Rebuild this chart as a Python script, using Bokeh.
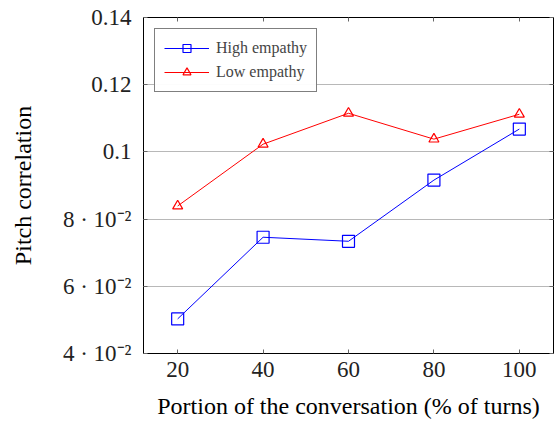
from bokeh.plotting import figure
from bokeh.models import LinearAxis, FixedTicker, Range1d, Legend, LegendItem
from bokeh.embed import file_html
from bokeh.resources import INLINE

portion = [20, 40, 60, 80, 100]
high_empathy = [0.0503, 0.0746, 0.0734, 0.0916, 0.1068]
low_empathy = [0.0839, 0.1023, 0.1115, 0.1038, 0.1112]
x_ticks = [20, 40, 60, 80, 100]
y_ticks = [0.04, 0.06, 0.08, 0.10, 0.12, 0.14]
y_tick_labels = ["4 · 10⁻²", "6 · 10⁻²", "8 · 10⁻²", "0.1", "0.12", "0.14"]

FONT = "Liberation Serif"

p = figure(width=557, height=423, output_backend="svg", toolbar_location=None,
           x_range=Range1d(12, 108), y_range=Range1d(0.04, 0.14),
           min_border_left=143, min_border_right=4, min_border_top=17, min_border_bottom=70)

p.outline_line_color = "black"
p.outline_line_width = 1
p.background_fill_color = "white"
p.border_fill_color = "white"

p.xgrid.visible = False
p.ygrid.grid_line_color = "#b8b8b8"
p.ygrid.grid_line_width = 1
p.ygrid.ticker = FixedTicker(ticks=y_ticks)

xa = p.xaxis[0]
xa.ticker = FixedTicker(ticks=x_ticks)
ya = p.yaxis[0]
ya.ticker = FixedTicker(ticks=y_ticks)
ya.major_label_overrides = {t: l for t, l in zip(y_ticks, y_tick_labels)}

for ax in (xa, ya):
    ax.axis_line_color = None
    ax.major_tick_in = 4
    ax.major_tick_out = 0
    ax.minor_tick_line_color = None
    ax.major_tick_line_color = "#666666"
    ax.major_label_text_font = FONT
    ax.major_label_text_font_size = "23px"
    ax.major_label_text_color = "#222222"
    ax.axis_label_text_font = FONT
    ax.axis_label_text_font_size = "24px"
    ax.axis_label_text_font_style = "normal"
    ax.axis_label_text_color = "black"

xa.major_label_standoff = 8
ya.major_label_standoff = 12
xa.axis_label = "Portion of the conversation (% of turns)"
xa.axis_label_standoff = 13
ya.axis_label = "Pitch correlation"
ya.axis_label_standoff = 24

# mirrored ticks on top and right
top = LinearAxis(ticker=FixedTicker(ticks=x_ticks), axis_line_color=None,
                 major_tick_in=4, major_tick_out=0, minor_tick_line_color=None,
                 major_tick_line_color="#666666", major_label_text_color=None,
                 major_label_text_font_size="1px", major_label_standoff=0)
right = LinearAxis(ticker=FixedTicker(ticks=y_ticks), axis_line_color=None,
                   major_tick_in=4, major_tick_out=0, minor_tick_line_color=None,
                   major_tick_line_color="#666666", major_label_text_color=None,
                   major_label_text_font_size="1px", major_label_standoff=0)
p.add_layout(top, "above")
p.add_layout(right, "right")

hl = p.line(portion, high_empathy, line_color="#0000ff", line_width=1)
hm = p.scatter(portion, high_empathy, marker="square", size=12, line_color="#0000ff",
               fill_color=None, line_width=1.2)
ll = p.line(portion, low_empathy, line_color="#ff0000", line_width=1)
lm = p.scatter(portion, low_empathy, marker="triangle", size=10, line_color="#ff0000",
               fill_color=None, line_width=1.2)

legend = Legend(items=[LegendItem(label="High empathy", renderers=[hl, hm]),
                       LegendItem(label="Low empathy", renderers=[ll, lm])],
                location="top_left")
legend.label_text_font = FONT
legend.label_text_font_size = "16px"
legend.border_line_color = "black"
legend.border_line_width = 1
legend.glyph_width = 45
legend.glyph_height = 20
legend.label_height = 20
legend.spacing = 4
legend.padding = 9
legend.margin = 11
legend.label_standoff = 7
p.add_layout(legend)

open("out.html", "w").write(file_html(p, INLINE))
